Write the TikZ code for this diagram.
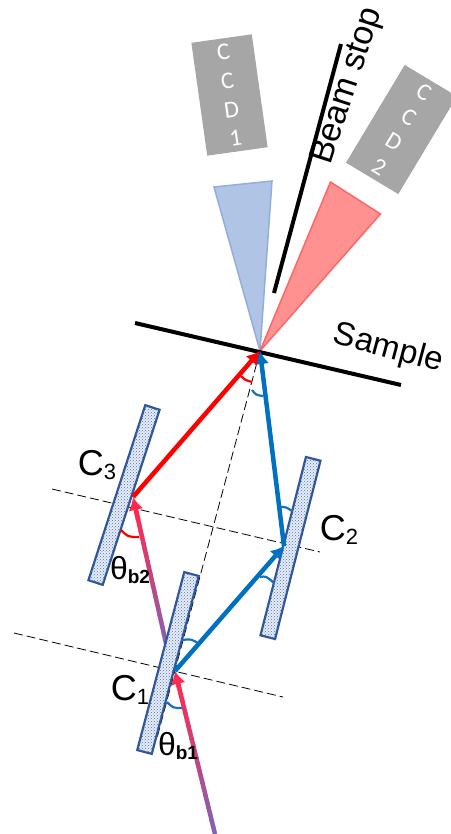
\documentclass[tikz,border=0pt]{standalone}
\usepackage{fontspec}
\setmainfont{Liberation Sans}
\newfontfamily\ccdfont{Carlito}
\usetikzlibrary{arrows.meta,calc,patterns}
\definecolor{beamblue}{HTML}{0070C0}
\definecolor{beamred}{HTML}{FF0000}
\definecolor{beampink}{HTML}{FF2A50}
\definecolor{beampurple}{HTML}{8064B4}
\definecolor{crystedge}{HTML}{2F5597}
\definecolor{angblue}{HTML}{4472C4}
\definecolor{ccdgray}{HTML}{A6A6A6}
\newcommand{\lowlab}[2]{#1{\fontsize{22}{22}\selectfont\raisebox{-0.35ex}{#2}}}
\newcommand{\anglab}[1]{\fontsize{32}{32}\selectfont θ{\fontsize{19}{19}\selectfont\bfseries\raisebox{-0.35ex}{#1}}}
\begin{document}
\begin{tikzpicture}[x=1pt, y=-1pt, >={Latex[length=13pt,width=15pt]},
  crystal/.style={draw=crystedge, line width=2.2pt, minimum width=184pt, minimum height=15pt, inner sep=0pt,
    fill=angblue!12, postaction={pattern=crosshatch dots, pattern color=angblue}},
  ccd/.style={fill=ccdgray, minimum width=61pt, minimum height=114pt, inner sep=0pt, align=center,
    text=white, font=\ccdfont\fontsize{24}{29}\selectfont},
  bluefan/.style={fill=angblue!42, draw=angblue!58, line width=1.5pt},
  redfan/.style={fill=beamred!43, draw=beamred!60, line width=1.5pt},
  guide/.style={dash pattern=on 9pt off 4pt, line width=0.8pt},
  barline/.style={line width=4pt},
  bluebeam/.style={->, draw=beamblue, line width=4.5pt},
  redbeam/.style={->, draw=beamred, line width=4.5pt},
  pinkbeam/.style={->, draw=beampink, line width=4.5pt},
  bluearc/.style={draw=beamblue!70!angblue, line width=2.2pt},
  redarc/.style={draw=beamred, line width=2.2pt},
  lab/.style={font=\fontsize{36}{36}\selectfont, inner sep=0pt}]
\useasboundingbox (0,0) rectangle (450,834);
% points on the crystals and sample
\coordinate (src) at (215,834);
\coordinate (p1) at (175,671);
\coordinate (p2) at (284,546);
\coordinate (p3) at (133,497);
\coordinate (s) at (260,351);
\coordinate (c1back) at (168,652);
% guide lines
\coordinate (g1a) at (52,489); \coordinate (g1b) at (320,552);
\coordinate (g2a) at (14,633); \coordinate (g2b) at (283,697);
\coordinate (g3) at (157,738);
\draw[guide] (g1a) -- (g1b);
\draw[guide] (g2a) -- (g2b);
\draw[guide] (s) -- (g3);
% detectors
\node[ccd, rotate=8] (ccd1) at (229.5,95) {C\\C\\D\\1};
\node[ccd, rotate=-31] (ccd2) at (401.5,129.5) {C\\C\\D\\2};
\coordinate (f1a) at (214,187); \coordinate (f1b) at (272,181);
\coordinate (f2a) at (330.5,182); \coordinate (f2b) at (380.5,214);
\draw[bluefan] (s) -- (f1a) -- (f1b) -- cycle;
\draw[redfan] (s) -- (f2a) -- (f2b) -- cycle;
% sample and stop
\coordinate (sl) at (135,323); \coordinate (sr) at (401,385);
\coordinate (st) at (341,44); \coordinate (sb) at (274,293);
\draw[barline] (sl) -- (sr);
\draw[barline] (sb) -- (st);
\node[font=\fontsize{34}{34}\selectfont, rotate=72, inner sep=0pt] (stoplab) at (348,86) {Beam stop};
\node[font=\fontsize{33}{33}\selectfont, rotate=-15, inner sep=0pt] (samplelab) at (388,349) {Sample};
% beams with colour running along them
\foreach \i in {0,...,23}{
  \pgfmathsetmacro{\mixa}{100*\i/23}
  \pgfmathsetmacro{\fra}{0.93*\i/24}
  \pgfmathsetmacro{\frb}{0.93*(\i+1.2)/24}
  \draw[draw=beampink!\mixa!beampurple, line width=4.5pt] ($(src)!\fra!(p1)$) -- ($(src)!\frb!(p1)$);
  \draw[draw=beampink!\mixa!beampurple, line width=4.5pt] ($(c1back)!\fra!(p3)$) -- ($(c1back)!\frb!(p3)$);
}
\draw[pinkbeam] ($(src)!0.9!(p1)$) -- (p1);
\draw[pinkbeam] ($(c1back)!0.85!(p3)$) -- (p3);
% crystals
\node[crystal, rotate=75.2] (c1) at (168,663) {};
\node[crystal, rotate=75.7] (c2) at (290.5,548) {};
\node[crystal, rotate=72] (c3) at (124,495) {};
\draw[bluebeam] (p1) -- (p2);
\draw[bluebeam] (p2) -- (s);
\draw[redbeam] (p3) -- (s);
% angle marks
\draw[bluearc] (167,702) .. controls (173,708) .. (182,708);
\draw[bluearc] (182,640) .. controls (191,639) .. (198,643);
\draw[bluearc] (260,577) .. controls (266,576) .. (274,583);
\draw[bluearc] (280,507) .. controls (286,507) .. (292,511);
\draw[bluearc] (252,390) .. controls (256,395) .. (263,396);
\draw[redarc] (241,376) .. controls (245,380) .. (252,382);
\draw[redarc] (121,530) .. controls (128,537) .. (139,537);
% labels
\node[lab] (c3lab) at (97,465) {\lowlab{C}{3}};
\node[lab] (c2lab) at (339,530) {\lowlab{C}{2}};
\node[lab] (c1lab) at (130,690) {\lowlab{C}{1}};
\node[inner sep=0pt] (t2lab) at (130,570) {\anglab{b2}};
\node[inner sep=0pt] (t1lab) at (178,746) {\anglab{b1}};
\end{tikzpicture}
\end{document}
